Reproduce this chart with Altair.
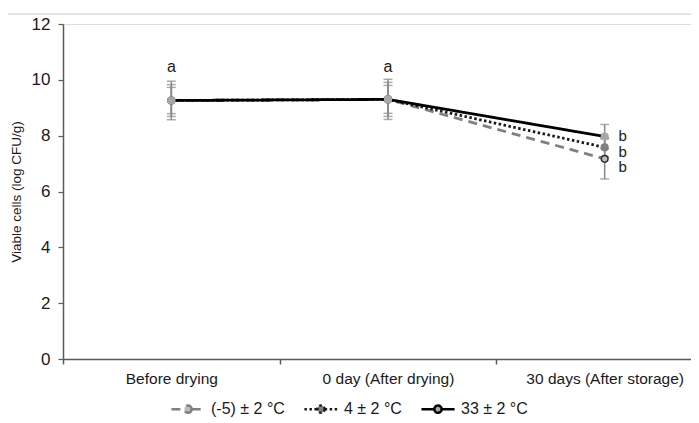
import altair as alt
import pandas as pd

categories = ["Before drying", "0 day (After drying)", "30 days (After storage)"]
series_names = ["(-5) ± 2 °C", "4 ± 2 °C", "33 ± 2 °C"]

mean_m5 = [9.26, 9.30, 7.17]
mean_4 = [9.26, 9.30, 7.58]
mean_33 = [9.26, 9.30, 7.97]

err_m5 = [0.69, 0.72, 0.72]
err_4 = [0.57, 0.61, 0.34]
err_33 = [0.47, 0.50, 0.43]

letter_cat = ["Before drying", "0 day (After drying)"]
letter_a_y = [10.45, 10.45]
letter_b_y = [7.99, 7.43, 6.87]

rows = []
for s, means, errs in zip(series_names, [mean_m5, mean_4, mean_33], [err_m5, err_4, err_33]):
    for c, m, e in zip(categories, means, errs):
        rows.append({"series": s, "category": c, "mean": m, "lo": m - e, "hi": m + e})
df = pd.DataFrame(rows)

df_a = pd.DataFrame({"category": letter_cat, "y": letter_a_y, "t": ["a", "a"]})
df_b = pd.DataFrame({"category": [categories[2]] * 3, "y": letter_b_y, "t": ["b", "b", "b"]})

line_colors = ["#808080", "#1a1a1a", "#000000"]
dashes = [[9, 6], [2.5, 2.5], [1, 0]]
point_fill = ["#bdbdbd", "#808080", "#a8a8a8"]
point_stroke = ["#2b2b2b", "#808080", "#a8a8a8"]

FONT = "Liberation Sans"
W, H = 628, 335

xscale = alt.Scale(type="band", domain=categories, range=[0, 650], paddingInner=0, paddingOuter=0)
yscale = alt.Scale(domain=[0, 12], nice=False)

x_enc = alt.X(
    "category:N",
    sort=categories,
    scale=xscale,
    axis=alt.Axis(
        title=None, labelAngle=0, labelAlign="center", labelBaseline="top", tickBand="extent",
        labelFont=FONT, labelFontSize=15.5,
        labelColor="#1a1a1a", domainColor="#5a5a5a", domainWidth=1.5, tickColor="#5a5a5a",
        tickWidth=1.5, tickSize=5, ticks=True, labelPadding=7, grid=False,
    ),
)
y_enc = alt.Y(
    "mean:Q",
    scale=yscale,
    axis=alt.Axis(
        title="Viable cells (log CFU/g)", values=[i * 0.5 for i in range(25)],
        labelExpr="datum.value % 2 == 0 ? datum.label : ''", labelOverlap=False, labelFlush=False,
        labelFont=FONT, labelFontSize=17, labelColor="#1a1a1a", titleFont=FONT, titleFontSize=13.5,
        titleFontWeight="normal", titleColor="#1a1a1a", titlePadding=8, domainColor="#5a5a5a",
        domainWidth=1.5, tickColor="#5a5a5a", tickWidth=1.2, tickSize=5, labelPadding=8, grid=False,
    ),
)

base = alt.Chart(df)

errbars = base.mark_rule(color="#8a8a8a", strokeWidth=1.5).encode(
    x=alt.X("category:N", sort=categories, scale=xscale), y=alt.Y("lo:Q", scale=yscale), y2="hi:Q"
)
caps_lo = base.mark_tick(color="#8a8a8a", thickness=1.5, size=9, orient="horizontal").encode(
    x=alt.X("category:N", sort=categories, scale=xscale), y=alt.Y("lo:Q", scale=yscale)
)
caps_hi = base.mark_tick(color="#8a8a8a", thickness=1.5, size=9, orient="horizontal").encode(
    x=alt.X("category:N", sort=categories, scale=xscale), y=alt.Y("hi:Q", scale=yscale)
)

legend_path = "M-1,0L-0.22,0M0.22,0A0.22,0.22 0 1,1 -0.22,0A0.22,0.22 0 1,1 0.22,0M0.22,0L1,0"

legend_common = dict(
    title=None, orient="none", direction="horizontal", legendX=107, legendY=367,
    symbolType=legend_path, symbolSize=1100, symbolStrokeWidth=2.5,
    labelFont=FONT, labelFontSize=16, labelColor="#1a1a1a", labelOffset=5,
    columnPadding=14, padding=0,
)
fill_ref = {"scale": "fill", "field": "value"}
encode_variants = [
    {"symbols": {"update": {"fill": fill_ref}}},
    {"symbols": {"fill": fill_ref}},
    None,
]

points = base.mark_point(filled=True, size=45, strokeWidth=1.5, opacity=1).encode(
    x=alt.X("category:N", sort=categories, scale=xscale),
    y=alt.Y("mean:Q", scale=yscale),
    fill=alt.Fill("series:N", scale=alt.Scale(domain=series_names, range=point_fill), legend=None),
    stroke=alt.Stroke("series:N", scale=alt.Scale(domain=series_names, range=point_stroke), legend=None),
    shape=alt.value("circle"),
)

text_a = alt.Chart(df_a).mark_text(font=FONT, fontSize=16, color="#1a1a1a", baseline="middle").encode(
    x=alt.X("category:N", sort=categories, scale=xscale), y=alt.Y("y:Q", scale=yscale), text="t:N"
)
text_b = alt.Chart(df_b).mark_text(font=FONT, fontSize=15, color="#1a1a1a", baseline="middle", dx=18).encode(
    x=alt.X("category:N", sort=categories, scale=xscale), y=alt.Y("y:Q", scale=yscale), text="t:N"
)

top_rule = alt.Chart(df_a).mark_rule(color="#dcdcdc", strokeWidth=1).encode(
    x=alt.value(-58), x2=alt.value(W), y=alt.value(-10)
)


def build(enc):
    kw = dict(legend_common)
    if enc is not None:
        kw["encode"] = enc
    lines = base.mark_line(strokeWidth=2.8).encode(
        x=x_enc,
        y=y_enc,
        color=alt.Color(
            "series:N", sort=series_names,
            scale=alt.Scale(domain=series_names, range=line_colors),
            legend=alt.Legend(**kw),
        ),
        strokeDash=alt.StrokeDash(
            "series:N", sort=series_names, scale=alt.Scale(domain=series_names, range=dashes)
        ),
        order=alt.Order("series:N"),
    )
    return alt.layer(top_rule, errbars, caps_lo, caps_hi, lines, points, text_a, text_b).properties(
        width=W,
        height=H,
        autosize=alt.AutoSizeParams(type="none"),
        padding={"left": 55, "top": 16, "right": 0, "bottom": 62},
    ).configure_view(stroke=None).configure(background="white")


chart = None
for enc in encode_variants:
    try:
        c = build(enc)
        c.to_dict()
        chart = c
        break
    except Exception:
        continue

chart.save("out.html", embed_options={"renderer": "svg", "actions": False})
